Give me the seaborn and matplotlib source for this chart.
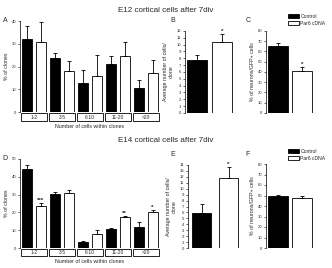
import numpy as np
import pandas as pd
import seaborn as sns
import matplotlib.pyplot as plt
from matplotlib.patches import Patch, Rectangle

# clone size categories and groups
sizes = ["1-2", "3-5", "6-10", "11-20", ">20"]
groups = ["Control", "Par6 cDNA"]

# E12 data
e12_ctrl = [32.0, 23.7, 12.8, 21.1, 10.5]
e12_ctrl_err = [5.6, 2.3, 5.8, 3.3, 3.6]
e12_par6 = [30.6, 17.9, 16.0, 24.6, 17.3]
e12_par6_err = [9.1, 4.6, 9.0, 6.1, 5.5]
e12_cells = [7.7, 10.4]
e12_cells_err = [0.8, 1.2]
e12_neur = [65.2, 41.0]
e12_neur_err = [3.5, 4.3]

# E14 data
e14_ctrl = [44.4, 30.3, 3.1, 10.6, 12.0]
e14_ctrl_err = [2.1, 1.2, 0.9, 0.9, 2.6]
e14_par6 = [23.8, 31.0, 7.9, 17.6, 20.0]
e14_par6_err = [1.5, 1.4, 2.4, 0.5, 1.4]
e14_cells = [5.9, 11.8]
e14_cells_err = [1.5, 1.9]
e14_neur = [49.3, 47.2]
e14_neur_err = [1.0, 2.1]

# significance marks (per bar, control then par6)
e12_cells_stars = ["", "*"]
e12_neur_stars = ["", "*"]
e14_size_stars = ["***", "", "", "**", "*"]
e14_cells_stars = ["", "*"]

sns.set_style("ticks")
plt.rcParams['font.family'] = ['Liberation Sans', 'DejaVu Sans']

W, H = 332, 268
fig = plt.figure(figsize=(W / 100, H / 100), dpi=100)
pal = {"Control": "black", "Par6 cDNA": "white"}


def px_axes(x0, y0, x1, y1):
    return fig.add_axes([x0 / W, 1 - y1 / H, (x1 - x0) / W, (y1 - y0) / H])


def style(ax, top, step, label):
    ax.set_ylim(0, top)
    ax.set_yticks(np.arange(0, top + 0.1, step))
    ax.tick_params(axis='y', labelsize=3.0, length=1.6, width=0.5, pad=1)
    ax.tick_params(axis='x', length=0)
    for s in ["top", "right", "bottom"]:
        ax.spines[s].set_visible(False)
    ax.spines["left"].set_linewidth(0.6)
    ax.set_xlabel("")
    ax.set_ylabel(label, fontsize=3.8, labelpad=2)


def add_err(ax, errs, stars=None):
    bars = sorted(ax.patches, key=lambda p: p.get_x())
    for i, p in enumerate(bars):
        x = p.get_x() + p.get_width() / 2
        y = p.get_height()
        ax.errorbar(x, y, yerr=[[0], [errs[i]]], color="black", lw=0.6,
                    capsize=1.6, capthick=0.6)
        if stars and stars[i]:
            ax.text(x, y + errs[i], stars[i], ha="center", va="bottom",
                    fontsize=4.5, fontweight="bold")


def size_panel(ax, ctrl, par6, ce, pe, top, stars):
    df = pd.DataFrame({"size": sizes * 2,
                       "group": ["Control"] * 5 + ["Par6 cDNA"] * 5,
                       "val": ctrl + par6})
    sns.barplot(data=df, x="size", y="val", hue="group", palette=pal,
                edgecolor="black", linewidth=0.6, width=0.95, gap=0.25,
                legend=False, ax=ax)
    errs, st = [], []
    for i in range(5):
        errs += [ce[i], pe[i]]
        st += ["", stars[i] if stars else ""]
    add_err(ax, errs, st)
    ax.set_xlim(-0.5, 4.5)
    style(ax, top, 10, "% of clones")
    ax.set_xticks(range(5))
    ax.set_xticklabels([])
    tr = ax.get_xaxis_transform()
    for i, s in enumerate(sizes):
        ax.add_patch(Rectangle((i - 0.46, -0.095), 0.92, 0.08, transform=tr,
                               clip_on=False, fill=False, lw=0.6,
                               edgecolor="black"))
        ax.text(i, -0.055, s, transform=tr, ha="center", va="center",
                fontsize=3.5)
    ax.text(0.5, -0.155, "Number of cells within clones", transform=ax.transAxes,
            ha="center", va="center", fontsize=3.8)


def pair_panel(ax, vals, errs, top, step, label, width, stars=None):
    df = pd.DataFrame({"group": groups, "val": vals})
    sns.barplot(data=df, x="group", y="val", hue="group", palette=pal,
                edgecolor="black", linewidth=0.6, width=width, legend=False,
                ax=ax)
    add_err(ax, errs, stars)
    ax.set_xlim(-0.5, 1.5)
    ax.set_xticks([])
    style(ax, top, step, label)


cells_label = "Average number of cells/\nclone"
neur_label = "% of neurons/GFP+ cells"

axA = px_axes(20, 21, 160, 112)
size_panel(axA, e12_ctrl, e12_par6, e12_ctrl_err, e12_par6_err, 40, None)
axB = px_axes(185, 31, 234, 113)
pair_panel(axB, e12_cells, e12_cells_err, 12, 1, cells_label, 0.8, e12_cells_stars)
axC = px_axes(266, 31, 314, 113)
pair_panel(axC, e12_neur, e12_neur_err, 80, 10, neur_label, 0.8, e12_neur_stars)

axD = px_axes(20, 159, 160, 248)
size_panel(axD, e14_ctrl, e14_par6, e14_ctrl_err, e14_par6_err, 50, e14_size_stars)
axE = px_axes(188, 165, 242, 248)
pair_panel(axE, e14_cells, e14_cells_err, 14, 1, cells_label, 0.72, e14_cells_stars)
axF = px_axes(266, 164, 314, 248)
pair_panel(axF, e14_neur, e14_neur_err, 80, 10, neur_label, 0.8)

# titles and panel letters
fig.text(166 / W, 1 - 10 / H, "E12 cortical cells after 7div", ha="center",
         va="center", fontsize=5.8)
fig.text(166 / W, 1 - 140 / H, "E14 cortical cells after 7div", ha="center",
         va="center", fontsize=5.8)
for lab, x, y in [("A", 5, 20), ("B", 173, 20), ("C", 248, 20),
                  ("D", 5, 159), ("E", 173, 155), ("F", 248, 155)]:
    fig.text(x / W, 1 - y / H, lab, ha="center", va="center", fontsize=5)

# legends
handles = [Patch(facecolor="black", edgecolor="black", lw=0.6),
           Patch(facecolor="white", edgecolor="black", lw=0.6)]
for ytop in [14, 149]:
    fig.legend(handles, groups, loc="upper left",
               bbox_to_anchor=(288 / W, 1 - ytop / H), frameon=False,
               fontsize=3.6, handlelength=2.2, handleheight=0.9,
               handletextpad=0.3, labelspacing=0.35, borderpad=0,
               borderaxespad=0)

fig.savefig("out.png", dpi=100)
